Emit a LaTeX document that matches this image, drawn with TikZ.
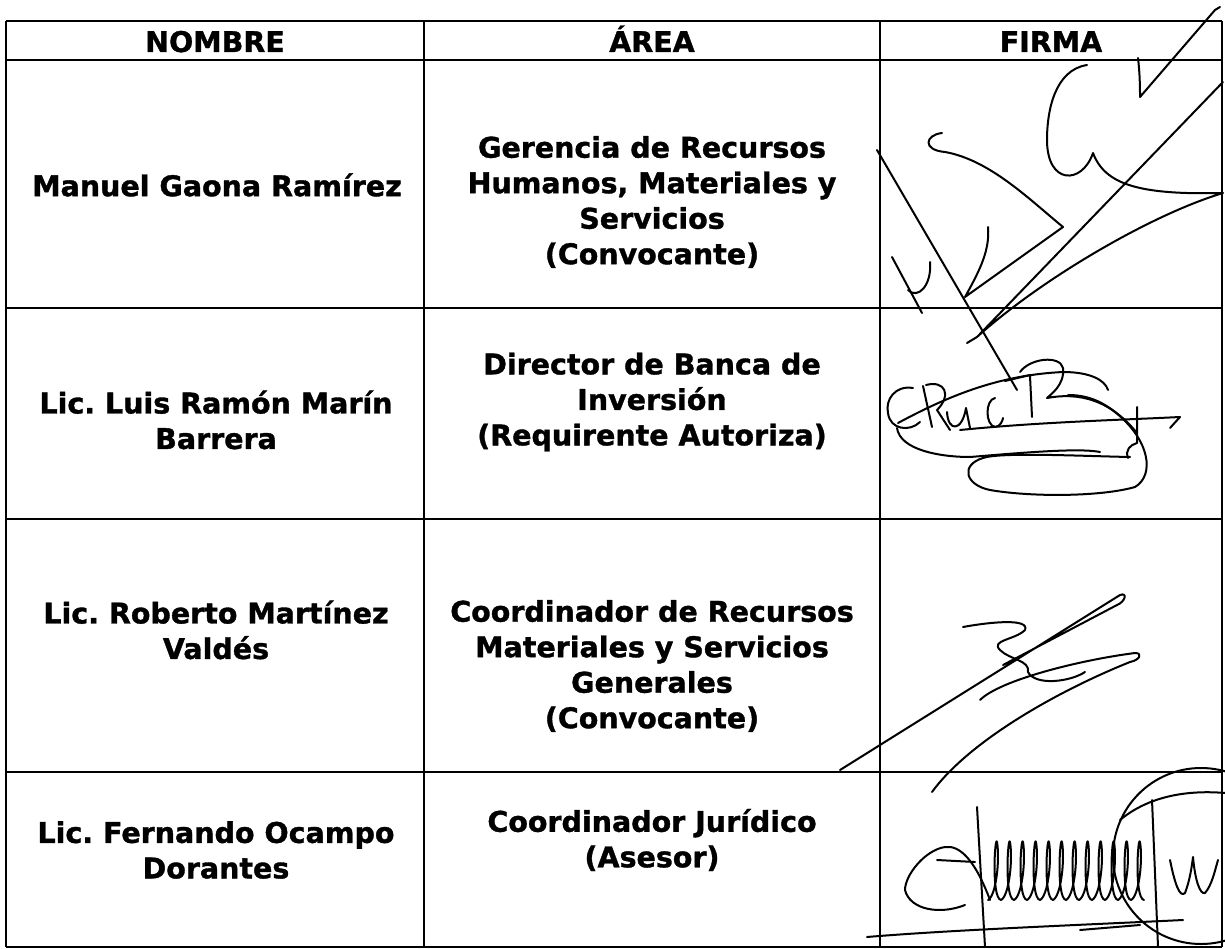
\documentclass[tikz,border=0pt]{standalone}
\usepackage{fontspec}
\setmainfont{DejaVu Sans}[BoldFeatures={FakeBold=1.2}]
\usepackage{tikz}

\tikzset{
  celltext/.style = {align=center, inner sep=0pt,
    font=\bfseries\fontsize{28.5}{35.5}\selectfont},
  headtext/.style = {celltext, anchor=base},
  tablerule/.style = {line width=1.5pt},
  inkpen/.style = {line width=2pt, line cap=round, line join=round}
}

\begin{document}
\frenchspacing
\begin{tikzpicture}[x=1pt, y=-1pt]
    \def\xL{6}
    \def\xA{424}
    \def\xB{880}
    \def\xR{1222}

    \useasboundingbox (0,0) rectangle (1225,949);

    % table
    \foreach \y in {21,60,308,519,772,947}
      \draw[tablerule] (\xL,\y) -- (\xR,\y);
    \foreach \x in {\xL,\xA,\xB,\xR}
      \draw[tablerule] (\x,21) -- (\x,947);

    \node[headtext] (nombreHead) at (215,52) {NOMBRE};
    \node[headtext] (areaHead) at (652,52) {ÁREA};
    \node[headtext] (firmaHead) at (1051,52) {FIRMA};

    \node[celltext] (nameOne) at (217,185) {Manuel Gaona Ramírez};
    \node[celltext] (areaOne) at (652,202)
      {Gerencia de Recursos\\Humanos, Materiales y\\Servicios\\(Convocante)};

    \node[celltext] (nameTwo) at (216,420) {Lic. Luis Ramón Marín\\Barrera};
    \node[celltext] (areaTwo) at (652,402)
      {Director de Banca de\\Inversión\\(Requirente Autoriza)};

    \node[celltext] (nameThree) at (216,630) {Lic. Roberto Martínez\\Valdés};
    \node[celltext] (areaThree) at (652,666)
      {Coordinador de Recursos\\Materiales y Servicios\\Generales\\(Convocante)};

    \node[celltext] (nameFour) at (216,850) {Lic. Fernando Ocampo\\Dorantes};
    \node[celltext] (areaFour) at (652,840) {Coordinador Jurídico\\(Asesor)};

    % signature 1
    \draw[inkpen] (1138,58) .. controls (1140,75) and (1140,90) .. (1140,97)
      -- (1215,10) -- (1220,7);
    \draw[inkpen] (1087,65) .. controls (1055,70) and (1047,110) .. (1047,140)
      .. controls (1047,185) and (1082,185) .. (1093,153)
      .. controls (1105,185) and (1140,195) .. (1223,193)
      .. controls (1150,215) and (1040,280) .. (977,337) -- (1223,82);
    \draw[inkpen] (977,337) -- (967,343);
    \draw[inkpen] (877,150) -- (1017,390);
    \draw[inkpen] (892,257) -- (922,313);
    \draw[inkpen] (908,290) .. controls (918,300) and (932,285) .. (930,262);
    \draw[inkpen] (942,133) .. controls (925,135) and (922,150) .. (945,152)
      .. controls (990,160) and (1030,200) .. (1063,227) -- (965,297)
      .. controls (980,270) and (990,250) .. (988,227);

    % signature 2
    \draw[inkpen] (913,388) .. controls (895,385) and (885,400) .. (888,413)
      .. controls (890,430) and (910,432) .. (920,422);
    \draw[inkpen] (923,386) -- (932,427);
    \draw[inkpen] (926,385) .. controls (945,380) and (952,395) .. (937,410) -- (950,430);
    \draw[inkpen] (947,412) .. controls (948,432) and (962,432) .. (966,408) -- (970,428);
    \draw[inkpen] (995,398) .. controls (985,400) and (985,425) .. (995,427)
      .. controls (1000,427) and (1003,420) .. (1003,418);
    \draw[inkpen] (1005,381) -- (1030,375);
    \draw[inkpen] (1030,376) -- (1032,417);
    \draw[inkpen] (1020,372) .. controls (1030,358) and (1060,355) .. (1063,368)
      .. controls (1065,385) and (1050,395) .. (1047,398)
      .. controls (1080,392) and (1110,400) .. (1137,433);
    \draw[inkpen] (960,430) .. controls (1040,422) and (1120,420) .. (1180,417) -- (1170,428);
    \draw[inkpen] (898,423) .. controls (950,395) and (1000,375) .. (1063,372)
      .. controls (1090,372) and (1105,380) .. (1108,390);
    \draw[inkpen] (897,428) .. controls (900,450) and (940,457) .. (970,457)
      .. controls (1030,452) and (1080,448) .. (1100,452);
    \draw[inkpen] (1137,407) -- (1137,443) .. controls (1130,445) and (1125,450) .. (1128,458);
    \draw[inkpen] (1130,457) .. controls (1080,456) and (1000,452) .. (983,458)
      .. controls (960,465) and (965,485) .. (990,490)
      .. controls (1030,497) and (1100,497) .. (1135,487)
      .. controls (1155,475) and (1150,440) .. (1115,412)
      .. controls (1100,400) and (1085,395) .. (1068,395);

    % signature 3
    \draw[inkpen] (840,770) -- (1120,595)
      .. controls (1128,592) and (1125,602) .. (1117,605) -- (1003,665);
    \draw[inkpen] (963,627) .. controls (990,622) and (1030,618) .. (1025,630)
      .. controls (1015,640) and (990,640) .. (1000,650)
      .. controls (1010,660) and (1030,660) .. (1028,672)
      .. controls (1035,686) and (1070,682) .. (1085,672);
    \draw[inkpen] (980,700) .. controls (1000,680) and (1080,660) .. (1135,653)
      .. controls (1143,653) and (1140,660) .. (1130,662)
      .. controls (1060,690) and (970,740) .. (932,792);

    % signature 4
    \draw[inkpen] (1201,856) circle (88);
    \draw[inkpen] (1120,820) .. controls (1150,795) and (1190,790) .. (1225,793);
    \draw[inkpen] (990,900) .. controls (975,860) and (960,845) .. (945,847)
      .. controls (925,850) and (905,875) .. (905,890)
      .. controls (910,910) and (940,915) .. (965,905);
    \draw[inkpen] (937,860) -- (975,862);
    \draw[inkpen] (977,807) -- (985,947);
    \draw[inkpen] (1152,800) -- (1158,947);
    \draw[inkpen] (988,900) \foreach \i in {0,...,11} {
      .. controls +(8,-4) and +(3,18) .. ++(9,-58)
      .. controls +(-2,-8) and +(-10,-2) .. ++(4,58) };
    \draw[inkpen] (1170,860) .. controls (1175,885) and (1180,898) .. (1185,893)
      .. controls (1190,880) and (1192,865) .. (1193,857)
      .. controls (1195,880) and (1200,895) .. (1205,893)
      .. controls (1212,885) and (1215,870) .. (1218,860);
    \draw[inkpen] (867,937) .. controls (950,930) and (1080,925) .. (1183,920);
    \draw[inkpen] (1080,930) -- (1140,925);
\end{tikzpicture}
\end{document}
